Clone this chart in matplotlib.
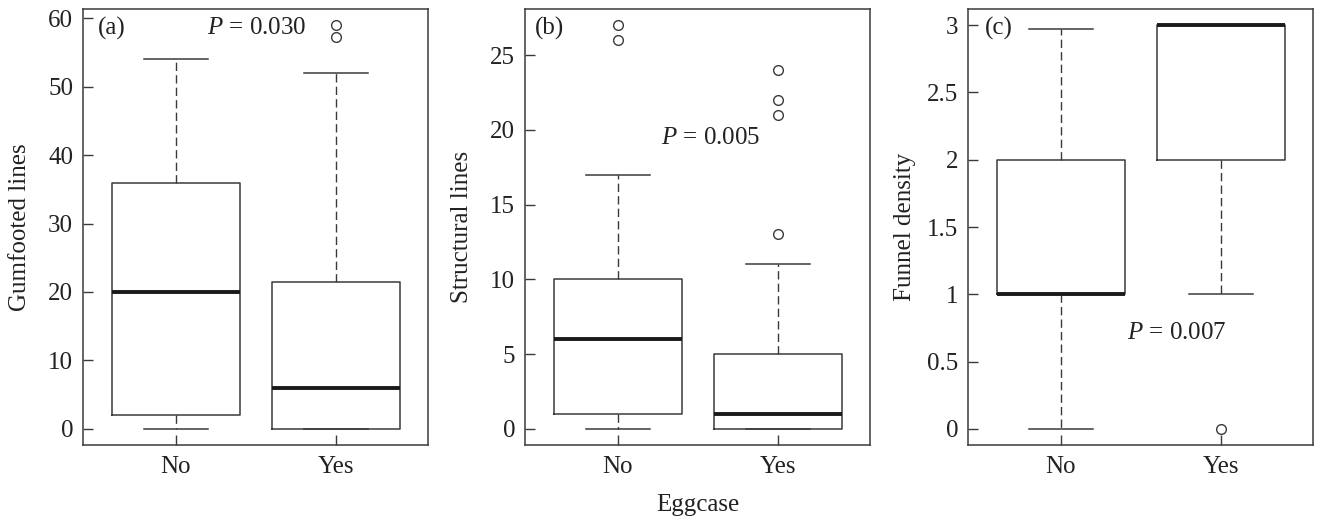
import matplotlib.pyplot as plt

plt.rcParams['font.family'] = ['Liberation Serif', 'DejaVu Serif']
plt.rcParams['mathtext.fontset'] = 'custom'
plt.rcParams['mathtext.rm'] = 'Liberation Serif'
plt.rcParams['mathtext.it'] = 'Liberation Serif:italic'

groups = ["No", "Yes"]
ylabels = ["Gumfooted lines", "Structural lines", "Funnel density"]
panel_tags = ["(a)", "(b)", "(c)"]
pvalues = ["0.030", "0.005", "0.007"]

# five-number summaries: (whislo, q1, med, q3, whishi)
gum_no = (0, 2, 20, 36, 54)
gum_yes = (0, 0, 6, 21.5, 52)
gum_fliers = [[], [57.3, 59]]

struct_no = (0, 1, 6, 10, 17)
struct_yes = (0, 0, 1, 5, 11)
struct_fliers = [[26, 27], [13, 21, 22, 24]]

funnel_no = (0, 1, 1, 2, 2.975)
funnel_yes = (1, 2, 3, 3, 3)
funnel_fliers = [[], [0]]

yticks = [
    [0, 10, 20, 30, 40, 50, 60],
    [0, 5, 10, 15, 20, 25],
    [0, 0.5, 1, 1.5, 2, 2.5, 3],
]
ytick_labels = [
    ["0", "10", "20", "30", "40", "50", "60"],
    ["0", "5", "10", "15", "20", "25"],
    ["0", "0.5", "1", "1.5", "2", "2.5", "3"],
]

panels = [
    ([gum_no, gum_yes], gum_fliers),
    ([struct_no, struct_yes], struct_fliers),
    ([funnel_no, funnel_yes], funnel_fliers),
]

# text placement in axes fraction (left edge, vertical centre)
tag_x = [0.043, 0.029, 0.049]
p_pos = [(0.36, 0.956), (0.395, 0.704), (0.459, 0.257)]

fig = plt.figure(figsize=(13.21, 5.31), dpi=100)
lefts = [0.0628, 0.3974, 0.7328]
dark = "#3a3a3a"
txt = "#222222"
fs = 18

for i, (summ, fliers) in enumerate(panels):
    ax = fig.add_axes([lefts[i], 0.162, 0.2615, 0.821])
    stats = []
    for g, s, f in zip(groups, summ, fliers):
        stats.append(dict(label=g, whislo=s[0], q1=s[1], med=s[2],
                          q3=s[3], whishi=s[4], fliers=f))
    ax.bxp(stats, positions=[1, 2], widths=0.8, showfliers=True,
           boxprops=dict(color=dark, linewidth=1.1),
           medianprops=dict(color="#1a1a1a", linewidth=2.8, solid_capstyle="butt"),
           whiskerprops=dict(color=dark, linewidth=1.0, linestyle=(0, (6, 3))),
           capprops=dict(color=dark, linewidth=1.1),
           capwidths=0.4,
           flierprops=dict(marker="o", markersize=7, markerfacecolor="none",
                           markeredgecolor=dark, markeredgewidth=1.0))

    allv = [v for s in summ for v in s] + [v for f in fliers for v in f]
    lo, hi = min(allv), max(allv)
    pad = 0.04 * (hi - lo)
    ax.set_ylim(lo - pad, hi + pad)
    ax.set_xlim(0.42, 2.58)

    ax.set_yticks(yticks[i])
    ax.set_yticklabels(ytick_labels[i])
    ax.set_xticks([1, 2])
    ax.set_xticklabels(groups)
    ax.tick_params(direction="in", length=7, width=1, color=dark,
                   labelsize=fs, labelcolor=txt)
    ax.tick_params(axis="y", pad=7)
    ax.tick_params(axis="x", pad=8)
    for sp in ax.spines.values():
        sp.set_color(dark)
        sp.set_linewidth(1.1)

    ax.set_ylabel(ylabels[i], fontsize=fs, color=txt)
    ax.yaxis.set_label_coords(-0.15, 0.5)

    ax.text(tag_x[i], 0.956, panel_tags[i], transform=ax.transAxes,
            fontsize=fs, va="center", ha="left", color=txt)
    ax.text(p_pos[i][0], p_pos[i][1], r"$P$ = " + pvalues[i],
            transform=ax.transAxes, fontsize=fs, va="center", ha="left",
            color=txt)

fig.text(0.528, 0.049, "Eggcase", fontsize=fs, ha="center", va="center",
         color=txt)

fig.savefig("out.png", dpi=100)
